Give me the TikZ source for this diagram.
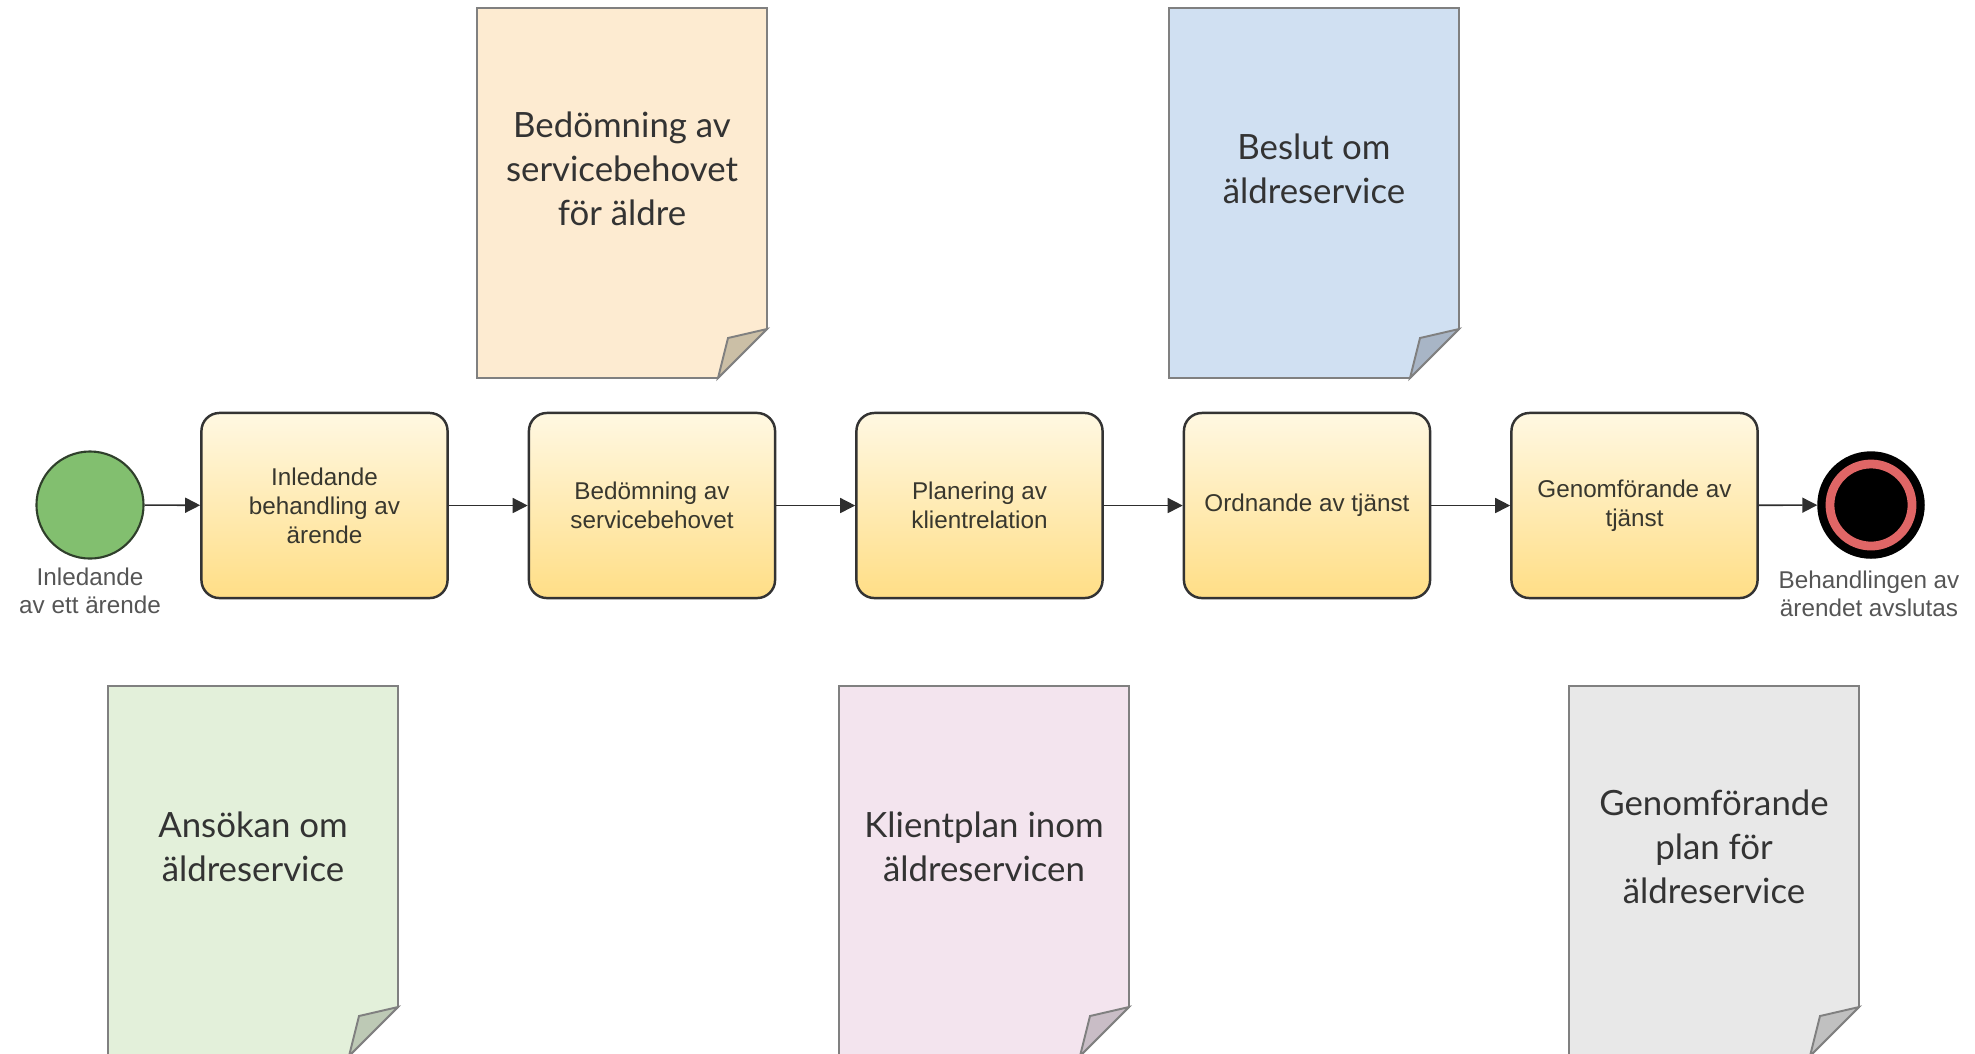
\documentclass[tikz,border=0pt]{standalone}
\usepackage{fontspec}
\setmainfont{Liberation Sans}
\newfontfamily\docfont{Lato}
\usepackage{tikz}
\usetikzlibrary{arrows.meta}

\definecolor{boxtop}{HTML}{FFF8E2}
\definecolor{boxbottom}{HTML}{FFDE86}
\definecolor{taskline}{HTML}{333333}
\definecolor{tasktext}{HTML}{38372E}
\definecolor{flowline}{HTML}{2E2E2E}
\definecolor{startgreen}{HTML}{82BF6F}
\definecolor{startline}{HTML}{2F3F2B}
\definecolor{endred}{HTML}{E06666}
\definecolor{paperline}{HTML}{808080}
\definecolor{papertextc}{HTML}{333333}
\definecolor{labelgray}{HTML}{555555}
\definecolor{docorange}{HTML}{FDEBD1}
\definecolor{foldorange}{HTML}{CBBFA6}
\definecolor{docblue}{HTML}{D0E0F2}
\definecolor{foldblue}{HTML}{A8B5C6}
\definecolor{docgreen}{HTML}{E3F0DA}
\definecolor{foldgreen}{HTML}{BDC9B5}
\definecolor{docpink}{HTML}{F3E4EE}
\definecolor{foldpink}{HTML}{C9BDC6}
\definecolor{docgray}{HTML}{E8E8E8}
\definecolor{foldgray}{HTML}{C0C0C0}

\begin{document}
\begin{tikzpicture}[x=0.01cm,y=-0.01cm,
    task/.style={draw=taskline,line width=0.7pt,rounded corners=0.18cm,top color=boxtop,bottom color=boxbottom,
        minimum width=2.46cm,minimum height=1.85cm,inner sep=0pt,align=center,
        font=\fontsize{6.9}{8.3}\selectfont,text=tasktext},
    flow/.style={draw=flowline,line width=0.45pt,-{Triangle[length=0.15cm,width=0.15cm]}},
    paper/.style={draw=paperline,line width=0.55pt},
    papertext/.style={align=center,font=\docfont\fontsize{9.9}{12.5}\selectfont,text=papertextc},
    eventlabel/.style={align=center,font=\fontsize{6.9}{8}\selectfont,text=labelgray}]
    \useasboundingbox (0,0) rectangle (1975,1053);

    % documents above the flow
    \draw[paper,fill=docorange] (477,8) -- (767,8) -- (767,329) -- (718,378) -- (477,378) -- cycle;
    \draw[paper,fill=foldorange] (767,329) -- (728,338) -- (718,378) -- cycle;
    \node[papertext] (bedomningdoc) at (622,169) {Bedömning av\\servicebehovet\\för äldre};

    \draw[paper,fill=docblue] (1169,8) -- (1459,8) -- (1459,329) -- (1410,378) -- (1169,378) -- cycle;
    \draw[paper,fill=foldblue] (1459,329) -- (1420,338) -- (1410,378) -- cycle;
    \node[papertext] (beslutdoc) at (1314,169) {Beslut om\\äldreservice};

    % the flow
    \node[circle,minimum size=1.07cm,inner sep=0pt,fill=startgreen,draw=startline,line width=0.6pt] (start) at (90,505) {};
    \node[eventlabel] (startlabel) at (90,591) {Inledande\\av ett ärende};

    \node[task] (inledande) at (324.5,505.5) {Inledande\\behandling av\\ärende};
    \node[task] (bedomning) at (652,505.5) {Bedömning av\\servicebehovet};
    \node[task] (planering) at (979.5,505.5) {Planering av\\klientrelation};
    \node[task] (ordnande) at (1307,505.5) {Ordnande av tjänst};
    \node[task] (genomforande) at (1634.5,505.5) {Genomförande av\\tjänst};

    \node[circle,minimum size=1.06cm,inner sep=0pt,fill=black,draw=black] (end) at (1871,505) {};
    \draw[endred,line width=2.5pt] (end.center) circle (0.41cm);
    \node[eventlabel] (endlabel) at (1869,594) {Behandlingen av\\ärendet avslutas};

    \draw[flow] (start) -- (inledande);
    \draw[flow] (inledande) -- (bedomning);
    \draw[flow] (bedomning) -- (planering);
    \draw[flow] (planering) -- (ordnande);
    \draw[flow] (ordnande) -- (genomforande);
    \draw[flow] (genomforande) -- (end);

    % documents below the flow
    \draw[paper,fill=docgreen] (108,686) -- (398,686) -- (398,1007) -- (349,1056) -- (108,1056) -- cycle;
    \draw[paper,fill=foldgreen] (398,1007) -- (359,1016) -- (349,1056) -- cycle;
    \node[papertext] (ansokandoc) at (253,847) {Ansökan om\\äldreservice};

    \draw[paper,fill=docpink] (839,686) -- (1129,686) -- (1129,1007) -- (1080,1056) -- (839,1056) -- cycle;
    \draw[paper,fill=foldpink] (1129,1007) -- (1090,1016) -- (1080,1056) -- cycle;
    \node[papertext] (klientplandoc) at (984,847) {Klientplan inom\\äldreservicen};

    \draw[paper,fill=docgray] (1569,686) -- (1859,686) -- (1859,1007) -- (1810,1056) -- (1569,1056) -- cycle;
    \draw[paper,fill=foldgray] (1859,1007) -- (1820,1016) -- (1810,1056) -- cycle;
    \node[papertext] (genomforandedoc) at (1714,847) {Genomförande\\plan för\\äldreservice};
\end{tikzpicture}
\end{document}
